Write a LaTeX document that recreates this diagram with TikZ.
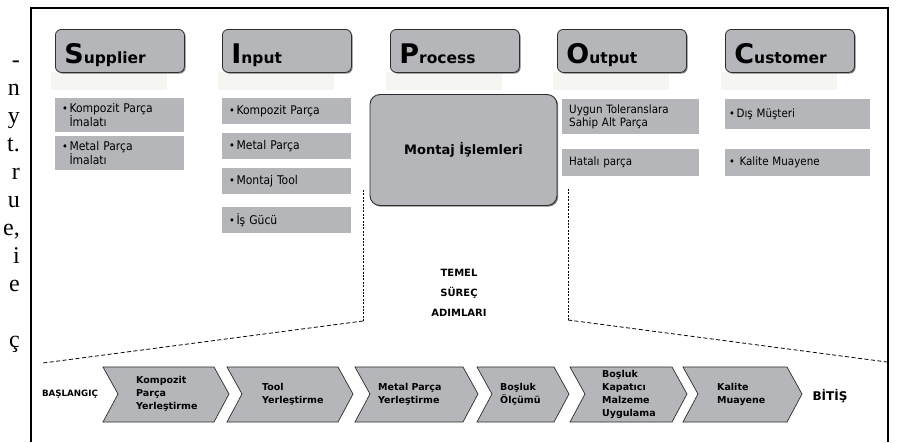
\documentclass[tikz,border=0pt]{standalone}
\usepackage{fontspec}
\setmainfont{DejaVu Sans}
\newfontfamily\condf{DejaVu Sans Condensed}
\newfontfamily\serf{Liberation Serif}
\usetikzlibrary{shadows}
\definecolor{boxg}{RGB}{180,182,185}
\definecolor{faintg}{RGB}{245,245,241}
\definecolor{edgec}{RGB}{45,45,45}
\newcommand\hdtxt[2]{{\fontsize{27}{27}\selectfont\bfseries #1}{\fontsize{15.5}{15.5}\selectfont\bfseries #2}}
\newcommand\bul{\raisebox{0.3pt}{\fontsize{11}{11}\selectfont\textbullet}\hspace{1.5pt}}
\tikzset{
  hdr/.style={draw=edgec, line width=0.8pt, fill=boxg, rounded corners=6pt,
    minimum width=129pt, minimum height=43pt, text width=111pt, inner xsep=9pt,
    align=left, text height=25pt, text depth=0pt, anchor=north west,
    drop shadow={shadow xshift=1.2pt, shadow yshift=-1.2pt, fill=black!50, opacity=1}},
  itm/.style={fill=boxg, anchor=north west, align=left, inner xsep=7pt, inner ysep=0pt,
    font=\condf\fontsize{12}{12.5}\selectfont},
  proc/.style={draw=edgec, line width=0.9pt, fill=boxg, rounded corners=10pt,
    minimum width=187pt, minimum height=111pt, font=\bfseries\fontsize{13}{15}\selectfont,
    drop shadow={shadow xshift=1.2pt, shadow yshift=-1.2pt, fill=black!50, opacity=1}},
  chev/.style={draw=edgec, line width=0.7pt, fill=boxg, line join=miter},
  ctext/.style={anchor=west, align=left, inner sep=0pt, font=\bfseries\fontsize{9.5}{13}\selectfont},
  fineline/.style={line width=0.8pt, dash pattern=on 2pt off 1.4pt},
  dashline/.style={line width=0.8pt, dash pattern=on 4pt off 2.5pt},
  frag/.style={anchor=base east, inner sep=0pt, font=\serf\fontsize{24}{24}\selectfont}
}
\begin{document}
\begin{tikzpicture}[x=1pt,y=-1pt]
\useasboundingbox[fill=white] (0,0) rectangle (915,442);
% cut-off text on the left
\foreach \t [count=\k from 0] in {-,n,y,t.,r,u,{e,},i,e,{},ç}
  \node[frag] (f\k) at (20,67+28*\k) {\t};
% frame
\draw[line width=1.2pt] (31,442) -- (31,8) -- (888,8) -- (888,442);
% faint bands under headers
\foreach \x in {55,222,390,557,725}
  \fill[faintg] (\x-4,72) rectangle (\x+112,90);
% headers
\node[hdr] (sup) at (55,29) {\hdtxt{S}{upplier}};
\node[hdr] (inp) at (222,29) {\hdtxt{I}{nput}};
\node[hdr] (pro) at (390,29) {\hdtxt{P}{rocess}};
\node[hdr] (out) at (557,29) {\hdtxt{O}{utput}};
\node[hdr] (cus) at (725,29) {\hdtxt{C}{ustomer}};
% supplier items
\node[itm, minimum width=129, minimum height=34, text width=115] (s1) at (55,98) {\bul Kompozit Parça\\\phantom{\bul}İmalatı};
\node[itm, minimum width=129, minimum height=34, text width=115] (s2) at (55,136) {\bul Metal Parça\\\phantom{\bul}İmalatı};
% input items
\node[itm, minimum width=129, minimum height=26, text width=115] (i1) at (222,98) {\bul Kompozit Parça};
\node[itm, minimum width=129, minimum height=26, text width=115] (i2) at (222,133) {\bul Metal Parça};
\node[itm, minimum width=129, minimum height=26, text width=115] (i3) at (222,168) {\bul Montaj Tool};
\node[itm, minimum width=129, minimum height=26, text width=115] (i4) at (222,207) {\bul İş Gücü};
% process
\node[proc] (mont) at (463.5,150) {Montaj İşlemleri};
% output items
\node[itm, minimum width=137, minimum height=35, text width=123, font=\condf\fontsize{11.5}{12.5}\selectfont] (o1) at (562,99) {Uygun Toleranslara\\Sahip Alt Parça};
\node[itm, minimum width=137, minimum height=27, text width=123, font=\condf\fontsize{11.5}{12.5}\selectfont] (o2) at (562,149) {Hatalı parça};
% customer items
\node[itm, minimum width=145, minimum height=30, text width=137, inner xsep=4pt, font=\condf\fontsize{11.5}{12.5}\selectfont] (c1) at (725,99) {\bul Dış Müşteri};
\node[itm, minimum width=145, minimum height=27, text width=137, inner xsep=4pt, font=\condf\fontsize{11.5}{12.5}\selectfont] (c2) at (725,149) {\bul\hspace{3pt}Kalite Muayene};
% bracket lines
\coordinate (la) at (363,190);
\coordinate (lb) at (363,321);
\coordinate (lc) at (43,363);
\coordinate (ra) at (568,189);
\coordinate (rb) at (568,320);
\coordinate (rc) at (887,362);
\draw[fineline] (la) -- (lb);
\draw[dashline] (lb) -- (lc);
\draw[fineline] (ra) -- (rb);
\draw[dashline] (rb) -- (rc);
\node[align=center, font=\bfseries\fontsize{10}{20}\selectfont] (temel) at (459,293) {TEMEL\\SÜREÇ\\ADIMLARI};
% chevrons
\foreach \a/\b in {103/229, 227/353, 355/478, 477/569, 570/687, 683/802}
  \draw[chev] (\a,367) -- (\b-15,367) -- (\b,394) -- (\b-15,422) -- (\a,422) -- (\a+15,394) -- cycle;
\node[ctext] (t1) at (136,394) {Kompozit\\Parça\\Yerleştirme};
\node[ctext] (t2) at (262,394) {Tool\\Yerleştirme};
\node[ctext] (t3) at (378,394) {Metal Parça\\Yerleştirme};
\node[ctext] (t4) at (500,394) {Boşluk\\Ölçümü};
\node[ctext] (t5) at (602,394) {Boşluk\\Kapatıcı\\Malzeme\\Uygulama};
\node[ctext] (t6) at (717,394) {Kalite\\Muayene};
\node[font=\bfseries\fontsize{8.7}{10}\selectfont] (start) at (70,394) {BAŞLANGIÇ};
\node[font=\bfseries\fontsize{12}{14}\selectfont] (finish) at (830,396) {BİTİŞ};
\end{tikzpicture}
\end{document}
